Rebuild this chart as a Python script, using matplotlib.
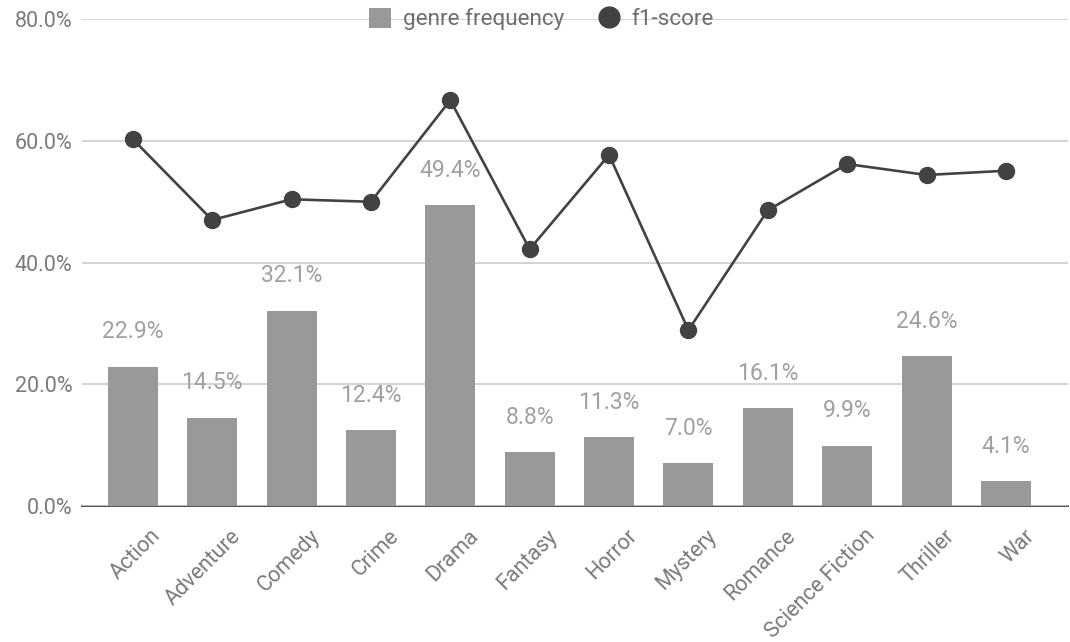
import matplotlib.pyplot as plt
import matplotlib.transforms as mtransforms
from matplotlib.patches import Patch
from matplotlib.lines import Line2D
from matplotlib.ticker import FuncFormatter

plt.rcParams['font.family'] = ['Roboto', 'DejaVu Sans']

genres = ["Action", "Adventure", "Comedy", "Crime", "Drama", "Fantasy", "Horror",
          "Mystery", "Romance", "Science Fiction", "Thriller", "War"]
genre_freq = [22.9, 14.5, 32.1, 12.4, 49.4, 8.8, 11.3, 7.0, 16.1, 9.9, 24.6, 4.1]
f1_score = [60.3, 47.0, 50.4, 50.0, 66.7, 42.2, 57.7, 28.9, 48.6, 56.2, 54.4, 55.1]
yticks = [0, 20, 40, 60, 80]

bar_col = "#999999"
line_col = "#424242"
text_col = "#7a7a7a"
fs = 15.5

fig = plt.figure(figsize=(10.7, 6.42), dpi=100)
ax = fig.add_axes([0.0766, 0.212, 0.9214, 0.758])

x = list(range(len(genres)))
ax.bar(x, genre_freq, width=0.63, color=bar_col, zorder=2)
ax.plot(x, f1_score, color=line_col, lw=1.9, marker='o', markersize=11.5, zorder=4)

# value labels above the bars
for xi, v in zip(x, genre_freq):
    ax.annotate(f"{v:.1f}%", (xi, v), xytext=(0, 25), textcoords='offset points',
                ha='center', va='center', fontsize=16.5, color="#a0a0a0", zorder=3)

ax.set_xlim(-0.64, 11.78)
ax.set_ylim(0, 80)
ax.set_yticks(yticks)
ax.yaxis.set_major_formatter(FuncFormatter(lambda v, p: f"{v:.1f}%"))
ax.set_xticks(x)
ax.set_xticklabels(genres, rotation=45, ha='right', va='center', rotation_mode='anchor')
ax.tick_params(axis='both', length=0, labelsize=fs, labelcolor=text_col)
ax.tick_params(axis='y', pad=7)
ax.tick_params(axis='x', pad=0)

# shift the slanted category names so they hang below-right of each bar
shift = mtransforms.ScaledTranslation(0.25, -0.27, fig.dpi_scale_trans)
for lab in ax.get_xticklabels():
    lab.set_transform(lab.get_transform() + shift)

ax.grid(axis='y', color="#cccccc", lw=1.2, zorder=0)
for s in ['top', 'right', 'left']:
    ax.spines[s].set_visible(False)
ax.spines['bottom'].set_color("#333333")
ax.spines['bottom'].set_linewidth(1.2)
ax.spines['bottom'].set_zorder(1)

handles = [Patch(facecolor=bar_col, edgecolor='none', label='genre frequency'),
           Line2D([], [], color=line_col, marker='o', markersize=15, linestyle='none',
                  label='f1-score')]
fig.legend(handles=handles, loc='center', bbox_to_anchor=(0.506, 1 - 19 / 642), ncol=2,
           frameon=False, fontsize=16.2, labelcolor="#6e6e6e", handlelength=1.0,
           handleheight=1.0, handletextpad=0.5, columnspacing=1.5)

fig.savefig("out.png", dpi=100)
